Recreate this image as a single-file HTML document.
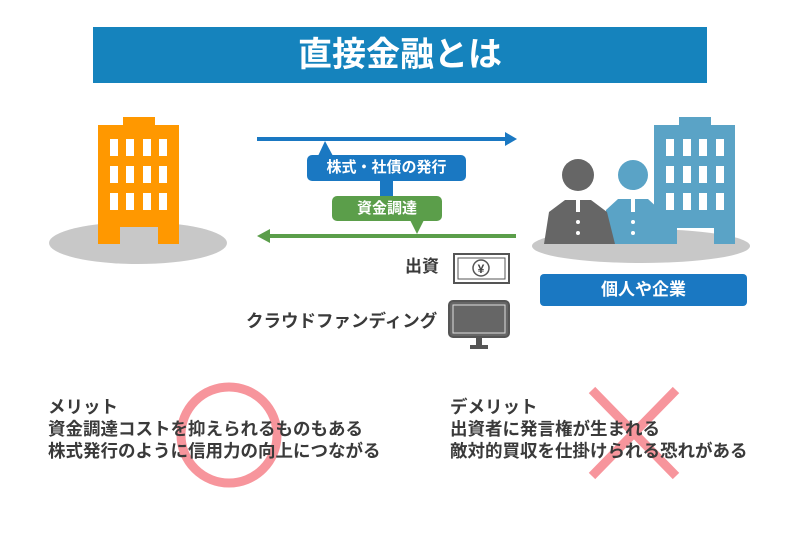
<!DOCTYPE html>
<html><head><meta charset="utf-8"><style>
body{margin:0;width:800px;height:533px;background:#fff;overflow:hidden;position:relative;font-family:"Liberation Sans","Noto Sans CJK JP",sans-serif}
.a{position:absolute}
.t{position:absolute;font-weight:bold;color:#3a3a3a;font-size:17.5px;line-height:22px;white-space:nowrap}
</style></head><body>
<div class="a" style="left:93px;top:27px;width:614px;height:56px;background:#1583bd;color:#fff;font-weight:bold;font-size:34px;line-height:56px;text-align:center">直接金融とは</div>
<svg class="a" style="left:0;top:0" width="800" height="533">
<ellipse cx="138" cy="243" rx="89" ry="21" fill="#c8c8c8"/>
<path d="M98 125H123V117H155V125H179V244H158V227H120V244H98Z" fill="#ff9800"/>
<g fill="#fff">
<rect x="110" y="139" width="8" height="17"/><rect x="126" y="139" width="8" height="17"/><rect x="143" y="139" width="8" height="17"/><rect x="159" y="139" width="8" height="17"/>
<rect x="110" y="166" width="8" height="17"/><rect x="126" y="166" width="8" height="17"/><rect x="143" y="166" width="8" height="17"/><rect x="159" y="166" width="8" height="17"/>
<rect x="110" y="193" width="8" height="17"/><rect x="126" y="193" width="8" height="17"/><rect x="143" y="193" width="8" height="17"/><rect x="159" y="193" width="8" height="17"/>
</g>
<ellipse cx="641" cy="246" rx="109" ry="17" fill="#c8c8c8"/>
<circle cx="633" cy="175" r="15" fill="#5aa3c6"/>
<path d="M606 244V210L618 199H648L660 210V244Z" fill="#5aa3c6"/>
<path d="M654 125H679V117H711V125H735V244H714V228H677V244H654Z" fill="#5aa3c6"/>
<g fill="#fff">
<rect x="666" y="139" width="8" height="17"/><rect x="683" y="139" width="8" height="17"/><rect x="699" y="139" width="8" height="17"/><rect x="716" y="139" width="8" height="17"/>
<rect x="666" y="166" width="8" height="17"/><rect x="683" y="166" width="8" height="17"/><rect x="699" y="166" width="8" height="17"/><rect x="716" y="166" width="8" height="17"/>
<rect x="666" y="193" width="8" height="17"/><rect x="683" y="193" width="8" height="17"/><rect x="699" y="193" width="8" height="17"/><rect x="716" y="193" width="8" height="17"/>
<rect x="631" y="198" width="4" height="14"/><circle cx="633" cy="222" r="2"/><circle cx="633" cy="233" r="2"/>
</g>
<circle cx="578" cy="175" r="16" fill="#666"/>
<path d="M544 244L549 212L565 200H591L607 212L615 244Z" fill="#666"/>
<g fill="#fff"><rect x="576" y="198" width="4" height="14"/><circle cx="578" cy="222" r="2"/><circle cx="578" cy="233" r="2"/></g>
<rect x="257" y="137" width="250" height="4" fill="#1a78c2"/><path d="M505 132L517 139L505 146Z" fill="#1a78c2"/>
<rect x="268" y="234" width="248" height="4" fill="#5b9e4a"/><path d="M270 229L257 236L270 243Z" fill="#5b9e4a"/>
<rect x="380" y="178" width="13" height="20" fill="#1a78c2"/>
<path d="M325 141L318 156H333Z" fill="#1a78c2"/>
<rect x="307" y="155" width="159" height="26" rx="5" fill="#1a78c2"/>
<rect x="332" y="196" width="110" height="25" rx="5" fill="#5b9e4a"/>
<path d="M410 220L417 234L424 220Z" fill="#5b9e4a"/>
<rect x="454" y="254" width="55" height="29" fill="#fff" stroke="#555" stroke-width="2"/>
<rect x="458" y="258" width="47" height="21" fill="none" stroke="#555" stroke-width="1"/>
<circle cx="481" cy="268" r="8" fill="#fff" stroke="#555" stroke-width="1.5"/>
<text x="481" y="273" font-size="12" font-weight="bold" text-anchor="middle" fill="#444" font-family="Liberation Sans,sans-serif">¥</text>
<rect x="449" y="301" width="60" height="36" rx="4" fill="#666" stroke="#555" stroke-width="2"/>
<rect x="453" y="305" width="52" height="28" fill="#666" stroke="#ddd" stroke-width="1"/>
<rect x="476" y="338" width="6" height="7" fill="#555"/><rect x="470" y="345" width="18" height="4" fill="#555"/>
<circle cx="229" cy="435" r="48" fill="none" stroke="#f7959c" stroke-width="9"/>
<path d="M592 390L676 476M676 390L592 476" stroke="#f7959c" stroke-width="9"/>
</svg>
<div class="a" style="left:307px;top:155px;width:159px;height:26px;line-height:26px;text-align:center;color:#fff;font-weight:bold;font-size:15px">株式・社債の発行</div>
<div class="a" style="left:332px;top:196px;width:110px;height:25px;line-height:25px;text-align:center;color:#fff;font-weight:bold;font-size:15px">資金調達</div>
<div class="a" style="left:540px;top:274px;width:207px;height:32px;background:#1a78c2;border-radius:4px;color:#fff;font-weight:bold;font-size:17px;line-height:32px;text-align:center">個人や企業</div>
<div class="t" style="left:405px;top:256px;font-size:17px">出資</div>
<div class="t" style="left:246px;top:310px;font-size:17.5px">クラウドファンディング</div>
<div class="t" style="left:48px;top:396px">メリット<br>資金調達コストを抑えられるものもある<br>株式発行のように信用力の向上につながる</div>
<div class="t" style="left:450px;top:396px">デメリット<br>出資者に発言権が生まれる<br>敵対的買収を仕掛けられる恐れがある</div>
</body></html>
